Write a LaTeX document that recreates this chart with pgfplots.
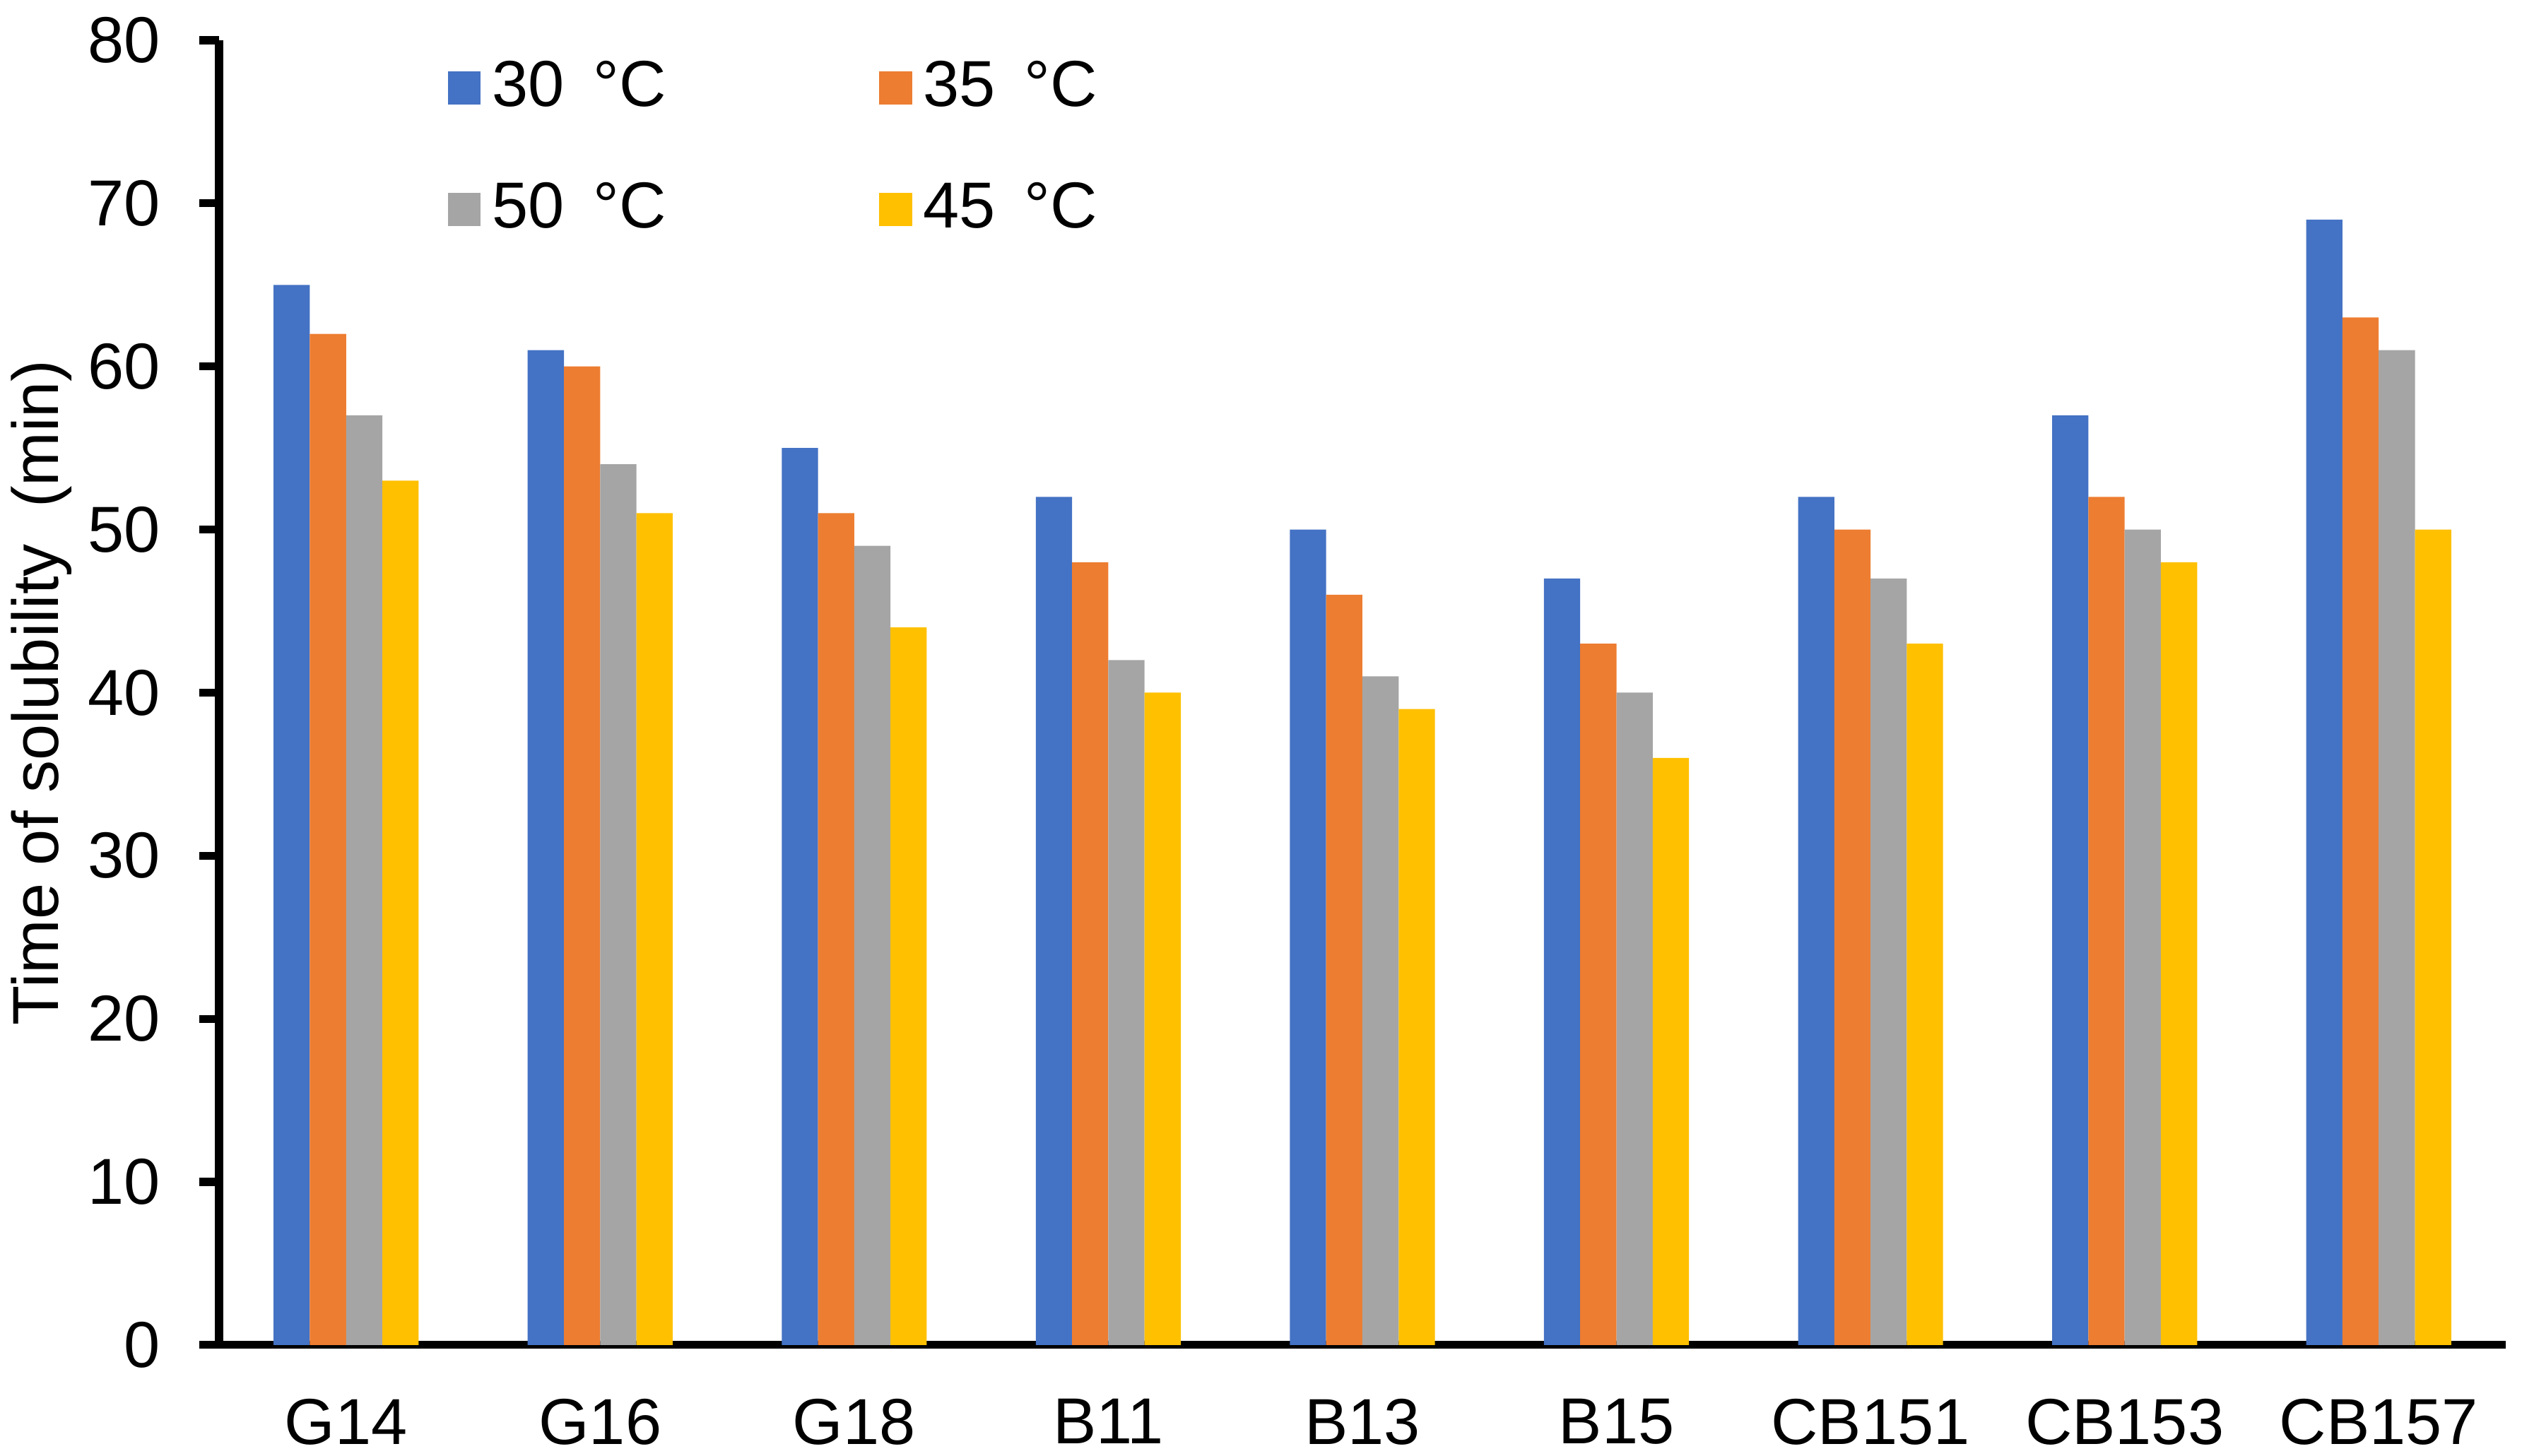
\documentclass[border=0pt]{standalone}
\usepackage{fontspec}
\setmainfont{Liberation Sans}
\usepackage{pgfplots}
\pgfplotsset{compat=1.18}
\usepackage{pgfplotstable}

\definecolor{c30}{HTML}{4472C4}
\definecolor{c35}{HTML}{ED7D31}
\definecolor{c50}{HTML}{A5A5A5}
\definecolor{c45}{HTML}{FFC000}

% x: 0=G14 1=G16 2=G18 3=B11 4=B13 5=B15 6=CB151 7=CB153 8=CB157
\pgfplotstableread{
x  t30 t35 t50 t45
0  65  62  57  53
1  61  60  54  51
2  55  51  49  44
3  52  48  42  40
4  50  46  41  39
5  47  43  40  36
6  52  50  47  43
7  57  52  50  48
8  69  63  61  50
}\soltable

\newcommand{\chartfont}{\fontsize{11.6}{13.9}\selectfont}

\begin{document}
\begin{tikzpicture}
\begin{axis}[
    name=ax,
    width=408.1pt, height=232.9pt,
    scale only axis,
    ybar=0pt,
    bar width=6.47pt,
    xmin=-0.5, xmax=8.5,
    ymin=0, ymax=80,
    axis lines=left,
    axis line style={-, line width=1.4pt},
    xtick={0,...,8},
    xticklabels={G14,G16,G18,B11,B13,B15,CB151,CB153,CB157},
    xtick style={draw=none},
    ytick={0,10,...,80},
    tick align=outside,
    major tick length=3.5pt,
    ytick style={line width=1.4pt, black},
    /pgf/number format/assume math mode=true,
    tick label style={font=\chartfont},
    yticklabel style={anchor=east, inner sep=0pt, xshift=-6.8pt},
    xticklabel style={anchor=north, inner sep=0pt, yshift=-5.9pt},
    ylabel={Time of solubility\ \ (min)},
    ylabel style={font=\chartfont, at={(axis description cs:-0.064,0.5)}, anchor=south, inner sep=0pt},
    legend columns=2,
    legend style={draw=none, fill=none, font=\chartfont,
        at={(axis description cs:0.0995,0.9937)}, anchor=north west,
        inner sep=0pt, row sep=8.15pt,
        /tikz/every even column/.append style={column sep=36pt}},
    legend cell align=left,
    legend image code/.code={\fill[#1] (0pt,-2.95pt) rectangle (5.9pt,2.95pt);},
]
\addplot[fill=c30, draw=none] table[x=x, y=t30] {\soltable};
\addlegendentry{30 \,°C}
\addplot[fill=c35, draw=none] table[x=x, y=t35] {\soltable};
\addlegendentry{35 \,°C}
\addplot[fill=c50, draw=none] table[x=x, y=t50] {\soltable};
\addlegendentry{50 \,°C}
\addplot[fill=c45, draw=none] table[x=x, y=t45] {\soltable};
\addlegendentry{45 \,°C}
\end{axis}
\pgfresetboundingbox
\path ([xshift=-39.09pt,yshift=-19.8pt]ax.south west) rectangle ([xshift=2.9pt,yshift=7.19pt]ax.north east);
\end{tikzpicture}
\end{document}
